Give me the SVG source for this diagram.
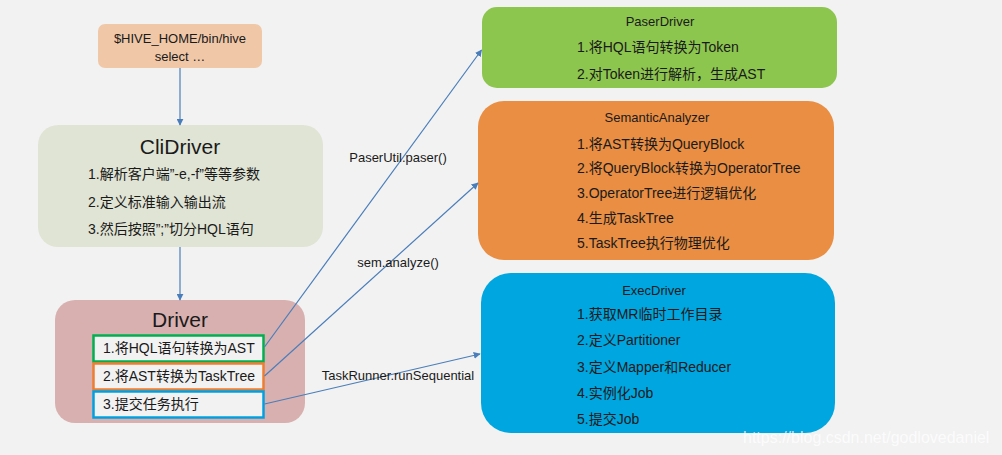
<svg xmlns="http://www.w3.org/2000/svg" width="1002" height="455" viewBox="0 0 1002 455">
<defs>
<marker id="arr" viewBox="0 0 10 10" refX="9" refY="5" markerWidth="7" markerHeight="7" markerUnits="userSpaceOnUse" orient="auto"><path d="M0,0 L10,5 L0,10 z" fill="#4a7ebb"/></marker>
<style>
text{font-family:"Liberation Sans","Noto Sans CJK SC",sans-serif;fill:#1a1a1a;}
.t{font-size:14px;}
.s{font-size:13px;}
.h{font-size:21px;}
.m{text-anchor:middle;}
.c{stroke:#4a7ebb;stroke-width:1.2;fill:none;marker-end:url(#arr);}
</style>
</defs>
<rect x="0" y="0" width="1002" height="455" fill="#f2f2f2"/>
<g id="hive">
<rect x="98" y="24" width="164" height="44" rx="7" fill="#f0c8a8"/>
<text class="s m" x="180" y="43">$HIVE_HOME/bin/hive</text>
<text class="s m" x="180" y="61">select …</text>
</g>
<g id="clidriver">
<rect x="38" y="125" width="285" height="122" rx="20" fill="#e0e4d4"/>
<text class="h m" x="180" y="154">CliDriver</text>
<text class="t" x="88" y="179">1.解析客户端”-e,-f”等等参数</text>
<text class="t" x="88" y="207">2.定义标准输入输出流</text>
<text class="t" x="88" y="234">3.然后按照”;”切分HQL语句</text>
</g>
<g id="driver">
<rect x="55" y="300" width="250" height="123" rx="20" fill="#d8b0b0"/>
<text class="h m" x="180" y="327">Driver</text>
<rect x="93.5" y="335.5" width="170" height="26" fill="#f2f2f2" stroke="#00b050" stroke-width="2.5"/>
<rect x="93.5" y="363.5" width="170" height="26" fill="#f2f2f2" stroke="#ed7d31" stroke-width="2.5"/>
<rect x="93.5" y="391.5" width="170" height="26" fill="#f2f2f2" stroke="#00a0e0" stroke-width="2.5"/>
<text class="t" x="103" y="353">1.将HQL语句转换为AST</text>
<text class="t" x="103" y="381">2.将AST转换为TaskTree</text>
<text class="t" x="103" y="409">3.提交任务执行</text>
</g>
<g id="paserdriver">
<rect x="482" y="7" width="355" height="81" rx="15" fill="#8dc64e"/>
<text class="s m" x="660" y="26">PaserDriver</text>
<text class="t" x="577" y="52">1.将HQL语句转换为Token</text>
<text class="t" x="577" y="79">2.对Token进行解析，生成AST</text>
</g>
<g id="semanticanalyzer">
<rect x="478" y="101" width="356" height="159" rx="26" fill="#e98e43"/>
<text class="s m" x="657" y="122">SemanticAnalyzer</text>
<text class="t" x="577" y="149">1.将AST转换为QueryBlock</text>
<text class="t" x="577" y="173">2.将QueryBlock转换为OperatorTree</text>
<text class="t" x="577" y="198">3.OperatorTree进行逻辑优化</text>
<text class="t" x="577" y="223">4.生成TaskTree</text>
<text class="t" x="577" y="248">5.TaskTree执行物理优化</text>
</g>
<g id="execdriver">
<rect x="481" y="273" width="354" height="160" rx="30" fill="#00a6e0"/>
<text class="s m" x="654" y="295">ExecDriver</text>
<text class="t" x="577" y="319">1.获取MR临时工作目录</text>
<text class="t" x="577" y="345">2.定义Partitioner</text>
<text class="t" x="577" y="372">3.定义Mapper和Reducer</text>
<text class="t" x="577" y="398">4.实例化Job</text>
<text class="t" x="577" y="424">5.提交Job</text>
</g>
<g id="connectors">
<line class="c" x1="180" y1="68" x2="180" y2="125"/>
<line class="c" x1="180" y1="247" x2="180" y2="300"/>
<line class="c" x1="264.5" y1="347" x2="481.5" y2="50"/>
<line class="c" x1="264.5" y1="376" x2="478" y2="183"/>
<line class="c" x1="264.5" y1="404" x2="480" y2="354"/>
<text class="s m" x="398" y="162">PaserUtil.paser()</text>
<text class="s m" x="398" y="267">sem.analyze()</text>
<text class="s m" x="398" y="380">TaskRunner.runSequential</text>
</g>
<text x="743" y="443" style="font-size:16px;fill:#ffffff;opacity:0.75">https://blog.csdn.net/godlovedaniel</text>
</svg>
